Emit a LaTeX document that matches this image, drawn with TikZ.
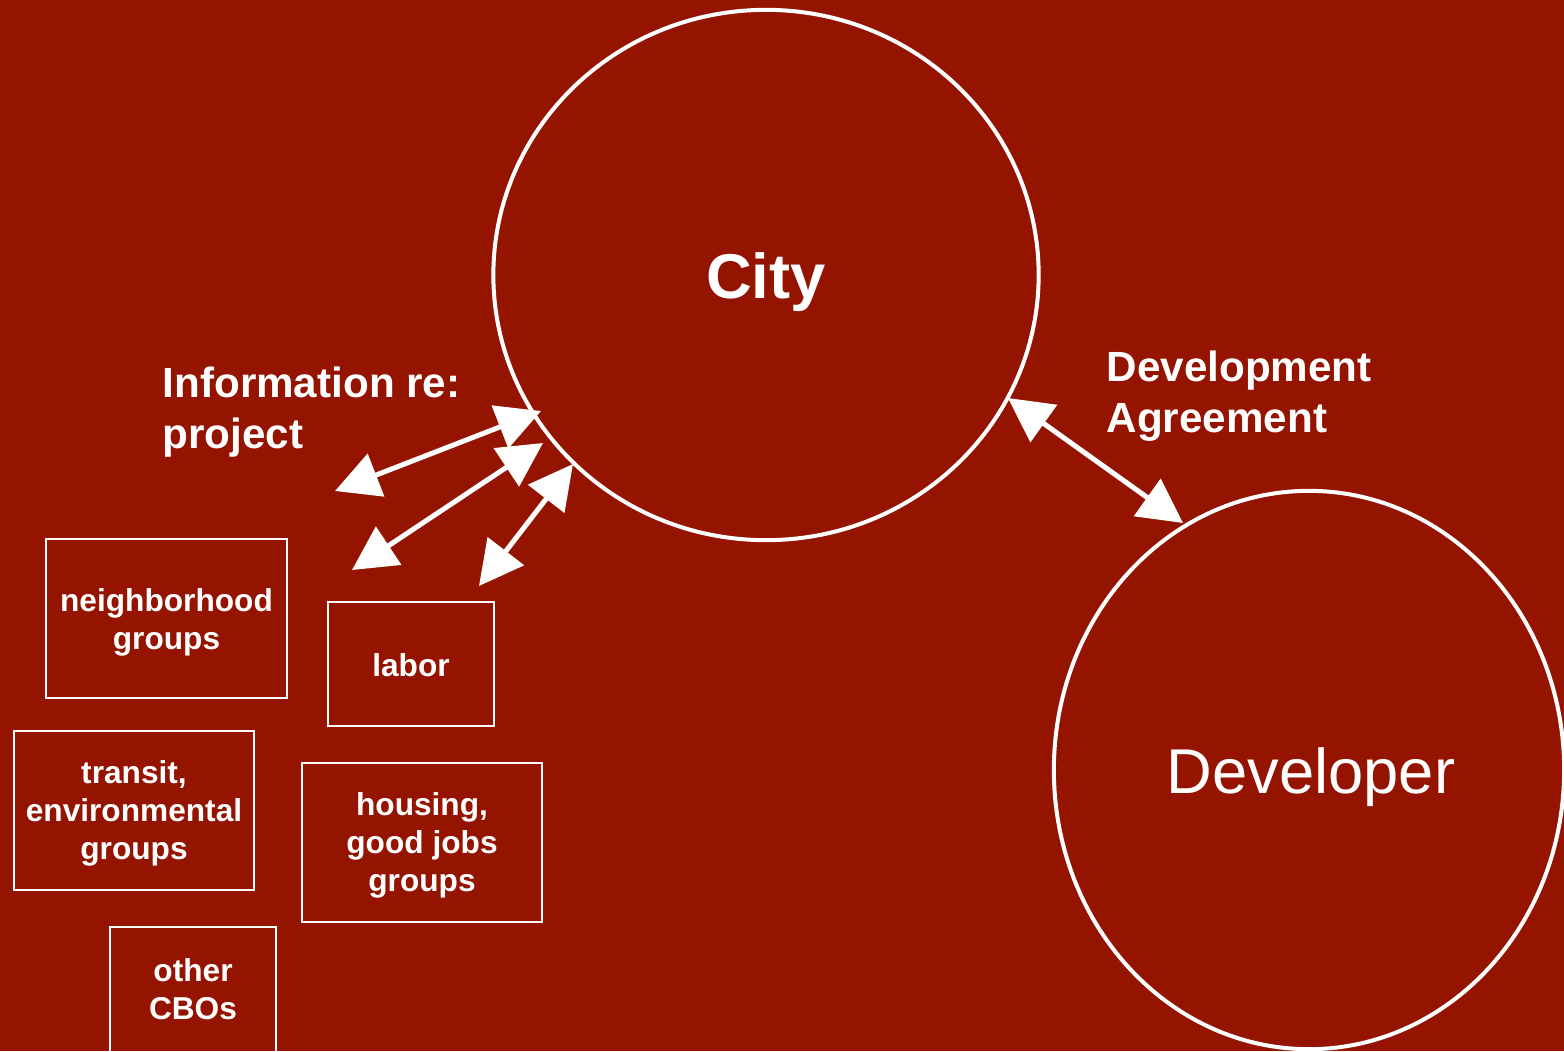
\documentclass[tikz,border=0pt]{standalone}
\usepackage{fontspec}
\setmainfont{Liberation Sans}
\usetikzlibrary{shapes.geometric,arrows.meta}
\definecolor{bgred}{RGB}{148,20,0}
\tikzset{
  grpbox/.style={draw=white, line width=0.02cm, inner sep=0pt},
  grptext/.style={text=white, font=\fontsize{9}{10.8}\selectfont\bfseries, align=center, inner sep=0pt},
  bigcirc/.style={ellipse, draw=white, line width=0.04cm, inner sep=0pt},
  lbl/.style={text=white, font=\fontsize{12}{14.6}\selectfont\bfseries, align=left, inner sep=0pt},
  dblarrow/.style={white, line width=0.05cm, {Triangle[length=0.44cm,width=0.45cm]}-{Triangle[length=0.44cm,width=0.45cm]}}
}
\begin{document}
\begin{tikzpicture}[x=0.01cm,y=-0.01cm]
\useasboundingbox (0,0) rectangle (1564,1051);
\fill[bgred] (0,0) rectangle (1564,1051);
\clip (0,0) rectangle (1564,1051);
% circles
\node[bigcirc, minimum width=5.45cm, minimum height=5.30cm] (city) at (766,275) {};
\node[text=white, font=\fontsize{18}{20}\selectfont\bfseries, inner sep=0pt] (citytext) at (766,282) {City};
\node[bigcirc, minimum width=5.10cm, minimum height=5.58cm] (dev) at (1309,770) {};
\node[text=white, font=\fontsize{18}{20}\selectfont, inner sep=0pt] (devtext) at (1311,777) {Developer};
% labels
\node[lbl, anchor=west] (info) at (162,412) {Information re:\\project};
\node[lbl, anchor=west] (agree) at (1106,396) {Development\\Agreement};
% boxes
\node[grpbox, minimum width=2.41cm, minimum height=1.59cm] (nbh) at (166.5,618.5) {};
\node[grptext] (nbhtext) at (166.5,622.5) {neighborhood\\groups};
\node[grpbox, minimum width=1.66cm, minimum height=1.24cm] (labor) at (411,664) {};
\node[grptext] (labortext) at (411,665) {labor};
\node[grpbox, minimum width=2.40cm, minimum height=1.59cm] (transit) at (134,810.5) {};
\node[grptext] (transittext) at (134,813.5) {transit,\\environmental\\groups};
\node[grpbox, minimum width=2.40cm, minimum height=1.59cm] (housing) at (422,842.5) {};
\node[grptext] (housingtext) at (422,845.5) {housing,\\good jobs\\groups};
\node[grpbox, minimum width=1.66cm, minimum height=1.60cm] (cbo) at (193,1007) {};
\node[grptext] (cbotext) at (193,989) {other\\CBOs};
% arrow endpoints
\coordinate (a1s) at (335,491);
\coordinate (a1e) at (541,411);
\coordinate (a2s) at (352,570);
\coordinate (a2e) at (543,443);
\coordinate (a3s) at (479,586);
\coordinate (a3e) at (573,464);
\coordinate (a4s) at (1008,398);
\coordinate (a4e) at (1183,523);
\draw[dblarrow] (a1s) -- (a1e);
\draw[dblarrow] (a2s) -- (a2e);
\draw[dblarrow] (a3s) -- (a3e);
\draw[dblarrow] (a4s) -- (a4e);
\end{tikzpicture}
\end{document}
